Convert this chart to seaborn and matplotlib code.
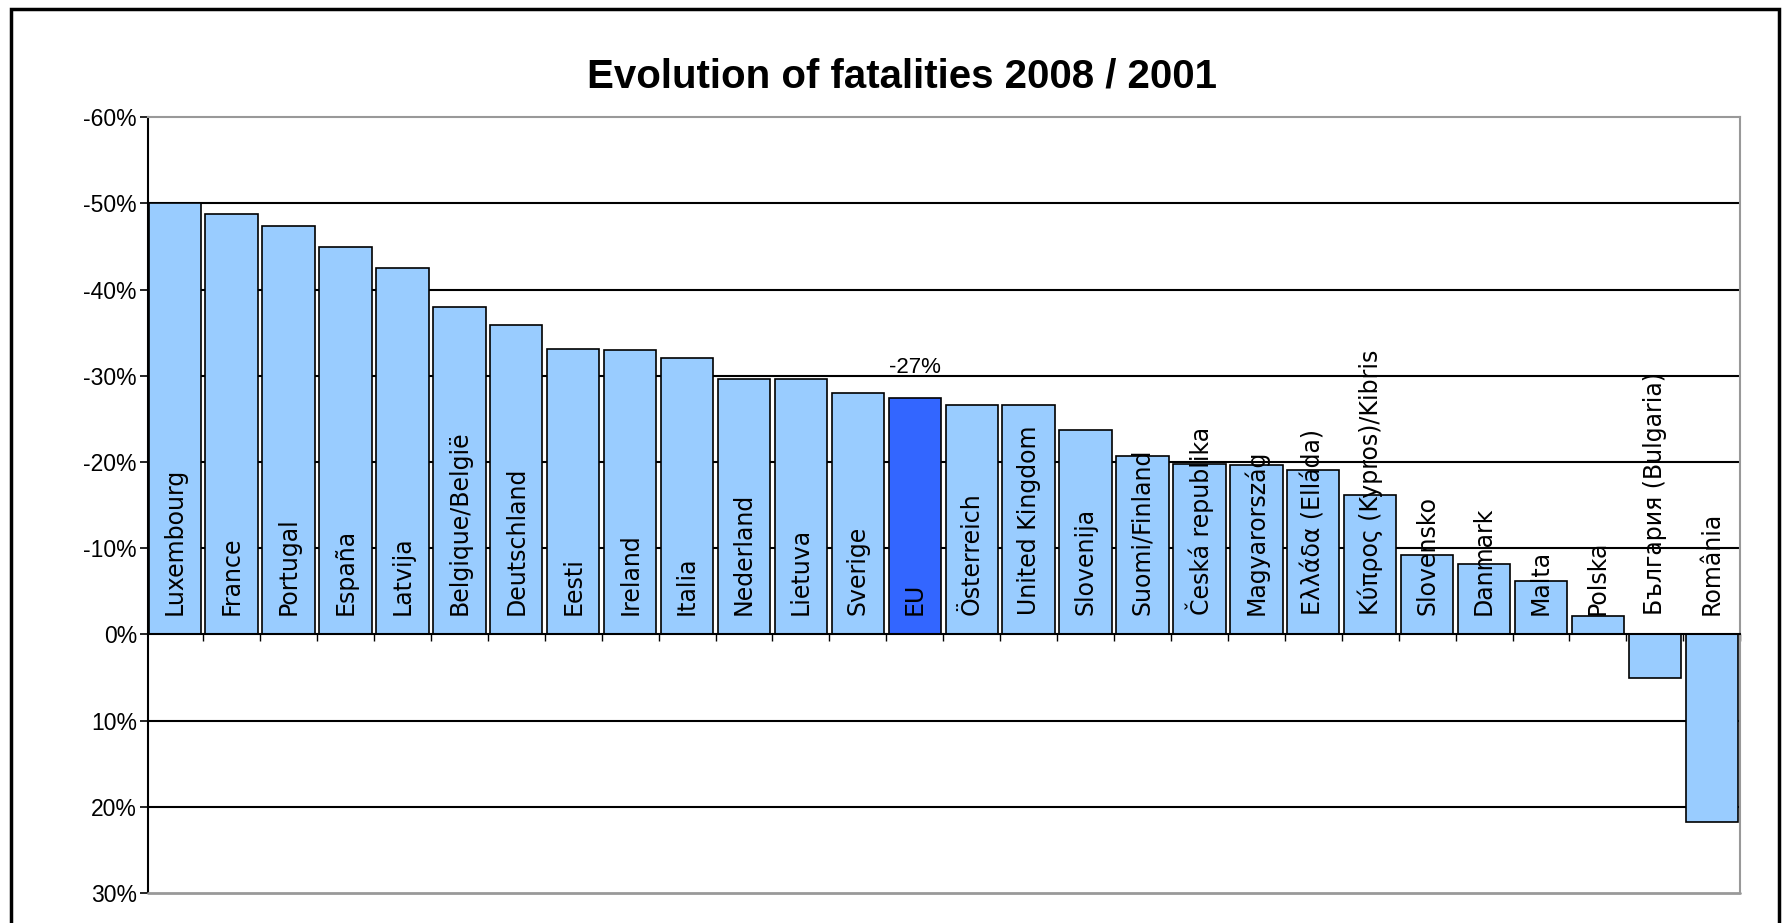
import matplotlib
matplotlib.use("Agg")
import numpy as np
import pandas as pd
import seaborn as sns
import matplotlib.pyplot as plt
from matplotlib.patches import Rectangle
from matplotlib.ticker import FuncFormatter

# Daten (Veränderung der Verkehrstoten 2008 gegenüber 2001, in %)
countries = ["Luxembourg", "France", "Portugal", "España", "Latvija",
             "Belgique/België", "Deutschland", "Eesti", "Ireland", "Italia",
             "Nederland", "Lietuva", "Sverige", "EU", "Österreich",
             "United Kingdom", "Slovenija", "Suomi/Finland", "Česká republika",
             "Magyarország", "Ελλάδα (Elláda)", "Κύπρος (Kypros)/Kibris",
             "Slovensko", "Danmark", "Malta", "Polska", "България (Bulgaria)",
             "România"]
change = [-50.0, -48.8, -47.4, -45.0, -42.5, -38.0, -35.9, -33.1, -33.0, -32.1,
          -29.6, -29.6, -28.0, -27.4, -26.6, -26.6, -23.7, -20.7, -19.8, -19.7,
          -19.1, -16.2, -9.2, -8.2, -6.2, -2.1, 5.0, 21.8]
eu_label = "-27%"
yticks = [-60, -50, -40, -30, -20, -10, 0, 10, 20, 30]

df = pd.DataFrame({"country": countries, "change": change})
palette = {c: ("#3366FF" if c == "EU" else "#99CCFF") for c in countries}

sns.set_style("white")
plt.rcParams["text.color"] = "black"
plt.rcParams["ytick.color"] = "black"
narrow = ["Liberation Sans Narrow", "Liberation Sans", "DejaVu Sans"]

fig = plt.figure(figsize=(17.83, 9.23), dpi=100)
ax = fig.add_axes([0.083, 0.0325, 0.893, 0.8405])

# Gitterlinien
for t in yticks[1:-1]:
    if t != 0:
        ax.axhline(t, color="black", lw=1.5, zorder=0.5)

sns.barplot(data=df, x="country", y="change", hue="country", palette=palette,
            legend=False, width=0.92, edgecolor="black", linewidth=1.2,
            saturation=1, ax=ax, zorder=2)

ax.set_ylim(30, -60)
ax.set_xlim(-0.47, len(countries) - 0.5)
ax.set_yticks(yticks)
ax.yaxis.set_major_formatter(FuncFormatter(lambda v, p: f"{v:.0f}%"))
for lab in ax.get_yticklabels():
    lab.set_family(narrow)
    lab.set_fontsize(16.5)
    lab.set_color("black")
ax.tick_params(axis="y", left=True, length=6, width=1.2, color="black", pad=2)

# x-Achse auf der Nulllinie, Striche zwischen den Kategorien
ax.spines["bottom"].set_position(("data", 0))
ax.spines["bottom"].set_color("black")
ax.spines["bottom"].set_linewidth(1.5)
ax.set_xticks(np.arange(len(countries)) + 0.5)
ax.set_xticklabels([])
ax.tick_params(axis="x", bottom=True, length=5, width=1, color="black")
ax.spines["left"].set_color("black")
ax.spines["left"].set_linewidth(1.5)
for s in ["top", "right"]:
    ax.spines[s].set_color("#999999")
    ax.spines[s].set_linewidth(1.5)
ax.axhline(30, color="#999999", lw=2, zorder=3, clip_on=False)
ax.set_xlabel("")
ax.set_ylabel("")

# Beschriftungen in den Balken
for i, c in enumerate(countries):
    ax.text(i, -2.3, c, rotation=90, ha="center", va="bottom",
            fontsize=17, family=["DejaVu Sans"], color="black", zorder=5)

# EU-Wert
eu_i = countries.index("EU")
ax.text(eu_i, change[eu_i] - 2.3, eu_label, ha="center", va="bottom",
        fontsize=16, family=narrow, color="black", zorder=5)

fig.text(0.506, 0.917, "Evolution of fatalities 2008 / 2001", ha="center",
         va="center", fontsize=29, fontweight="bold", family=narrow,
         color="black")

fig.patches.append(Rectangle((0.006, -0.01), 0.992, 1.0, transform=fig.transFigure,
                             fill=False, edgecolor="black", lw=2.5))

fig.savefig("out.png", dpi=100)
